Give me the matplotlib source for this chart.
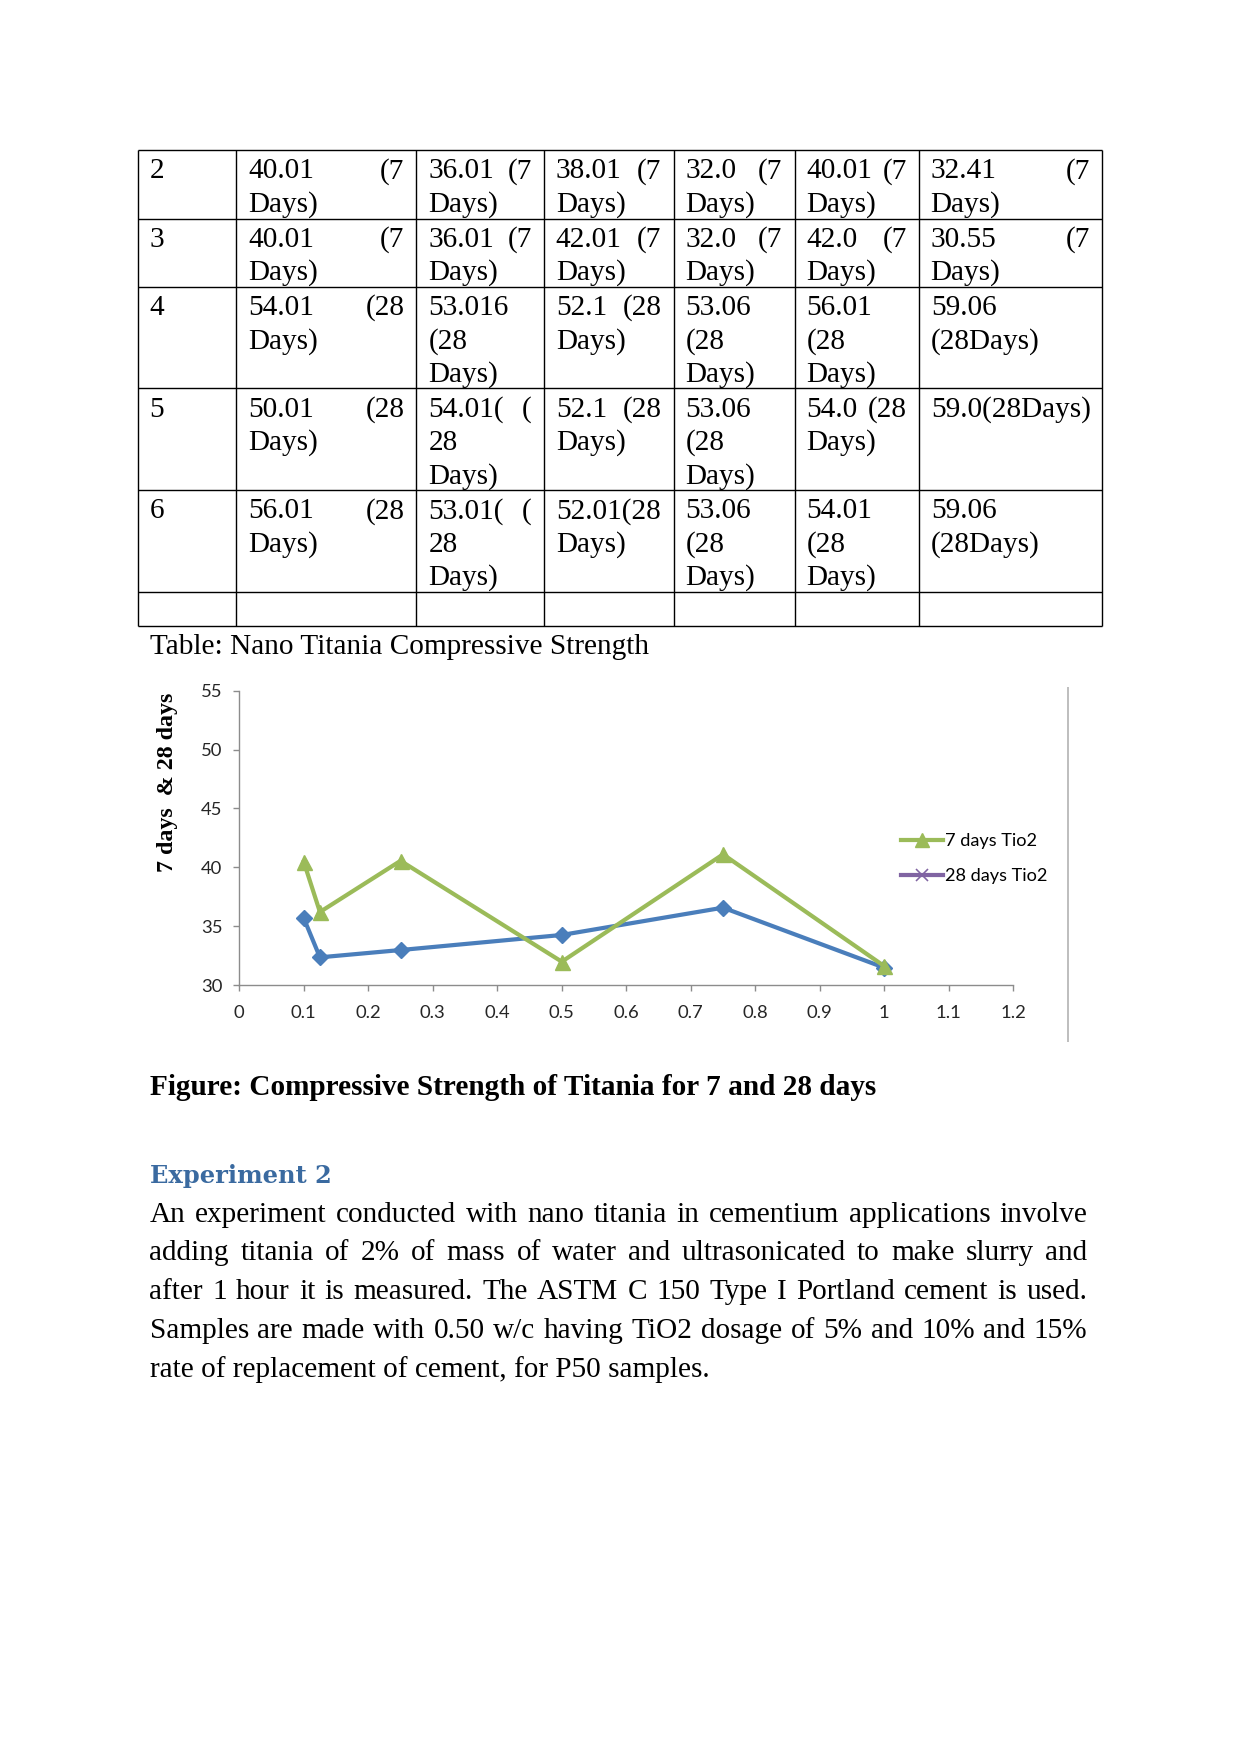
import matplotlib
matplotlib.use('Agg')
import matplotlib.pyplot as plt
from matplotlib.lines import Line2D

W, H = 1241, 1754
DPI = 100


def pt(px):
    # page pixels -> points at DPI
    return px * 72 / DPI


# chart data: TiO2 dosage vs strength
tio2_dosage = [0.1, 0.125, 0.25, 0.5, 0.75, 1.0]
strength_7d = [40.45, 36.2, 40.55, 31.98, 41.1, 31.6]
strength_28d = [35.67, 32.35, 32.97, 34.25, 36.57, 31.47]
series_labels = ['7 days Tio2', '28 days Tio2']
x_ticks = [0, 0.1, 0.2, 0.3, 0.4, 0.5, 0.6, 0.7, 0.8, 0.9, 1.0, 1.1, 1.2]
x_tick_labels = ['0', '0.1', '0.2', '0.3', '0.4', '0.5', '0.6', '0.7', '0.8', '0.9', '1', '1.1', '1.2']
y_ticks = [30, 35, 40, 45, 50, 55]
y_label = '7 days  & 28 days'

# table data (line breaks as in the document)
row_ids = ['2', '3', '4', '5', '6', '']
table_rows = [
    ['40.01 (7\nDays)', '36.01 (7\nDays)', '38.01 (7\nDays)', '32.0 (7\nDays)', '40.01 (7\nDays)', '32.41 (7\nDays)'],
    ['40.01 (7\nDays)', '36.01 (7\nDays)', '42.01 (7\nDays)', '32.0 (7\nDays)', '42.0 (7\nDays)', '30.55 (7\nDays)'],
    ['54.01 (28\nDays)', '53.016\n(28\nDays)', '52.1 (28\nDays)', '53.06\n(28\nDays)', '56.01\n(28\nDays)', '59.06\n(28Days)'],
    ['50.01 (28\nDays)', '54.01( (\n28\nDays)', '52.1 (28\nDays)', '53.06\n(28\nDays)', '54.0 (28\nDays)', '59.0(28Days)'],
    ['56.01 (28\nDays)', '53.01( (\n28\nDays)', '52.01(28\nDays)', '53.06\n(28\nDays)', '54.01\n(28\nDays)', '59.06\n(28Days)'],
    ['', '', '', '', '', ''],
]
table_caption = 'Table: Nano Titania Compressive Strength'
figure_caption = 'Figure: Compressive Strength of Titania for 7 and 28 days'
heading = 'Experiment 2'
paragraph_lines = [
    'An experiment conducted with nano titania in cementium applications involve',
    'adding titania of 2% of mass of water and ultrasonicated to make slurry and',
    'after 1 hour it is measured. The ASTM C 150 Type I Portland cement is used.',
    'Samples are made with 0.50 w/c having TiO2 dosage of 5% and 10% and 15%',
    'rate of replacement of cement, for P50 samples.',
]

# layout (page pixels)
col_edges = [137.6, 236.1, 416.3, 543.8, 673.6, 794.5, 918.7, 1102.2]
row_edges = [150.0, 218.5, 286.6, 388.3, 490.1, 591.9, 626.4]
cell_pad = 12
first_baseline = 28.3
line_step = 33.3
body_size = pt(29.3)

fig = plt.figure(figsize=(W / DPI, H / DPI), dpi=DPI)
fig.patch.set_facecolor('white')
page = fig.add_axes([0, 0, 1, 1])
page.set_xlim(0, W)
page.set_ylim(H, 0)
page.axis('off')
renderer = fig.canvas.get_renderer()

serif = dict(family='Liberation Serif', size=body_size, color='black', va='baseline', ha='left')


def justify(words, x0, x1, y, **kw):
    texts = [page.text(0, y, w, **kw) for w in words]
    widths = [t.get_window_extent(renderer).width for t in texts]
    gap = (x1 - x0 - sum(widths)) / max(len(words) - 1, 1)
    x = x0
    for t, w in zip(texts, widths):
        t.set_x(x)
        x += w + gap


# table grid
page.hlines(row_edges, col_edges[0], col_edges[-1], color='black', lw=pt(1.4))
page.vlines(col_edges, row_edges[0], row_edges[-1], color='black', lw=pt(1.4))

for r, top in enumerate(row_edges[:-1]):
    cells = [row_ids[r]] + table_rows[r]
    for c, cell in enumerate(cells):
        if not cell:
            continue
        x0 = col_edges[c] + cell_pad
        x1 = col_edges[c + 1] - cell_pad
        lines = cell.split('\n')
        for i, line in enumerate(lines):
            y = top + first_baseline + i * line_step
            if ' ' in line and i < len(lines) - 1:
                justify(line.split(), x0, x1, y, **serif)
            else:
                page.text(x0, y, line, **serif)

page.text(150, 654.3, table_caption, **serif)

# chart
ax = fig.add_axes([239.3 / W, (H - 985) / H, (1013.3 - 239.3) / W, (985 - 690.7) / H])
ax.set_facecolor('none')
ax.plot(tio2_dosage, strength_28d, color='#4A7EBB', lw=pt(4.2), marker='D',
        markersize=pt(11), markeredgecolor='#4A7EBB', zorder=3)
ax.plot(tio2_dosage, strength_7d, color='#9BBB59', lw=pt(4.2), marker='^',
        markersize=pt(15), markeredgecolor='#9BBB59', zorder=4)
ax.set_xlim(0, 1.2)
ax.set_ylim(30, 55)
ax.set_xticks(x_ticks)
ax.set_xticklabels(x_tick_labels)
ax.set_yticks(y_ticks)
for side in ['top', 'right']:
    ax.spines[side].set_visible(False)
for side in ['left', 'bottom']:
    ax.spines[side].set_color('#8C8C8C')
    ax.spines[side].set_linewidth(pt(1.4))
ax.tick_params(axis='both', direction='out', length=pt(6), width=pt(1.4), color='#8C8C8C',
               labelsize=pt(18.5), labelcolor='#262626')
ax.tick_params(axis='y', pad=pt(11))
ax.tick_params(axis='x', pad=pt(13.5))
for lab in ax.get_xticklabels() + ax.get_yticklabels():
    lab.set_family('Lato')

handles = [
    Line2D([], [], color='#9BBB59', lw=pt(4.2), marker='^', markersize=pt(14), markeredgecolor='#9BBB59'),
    Line2D([], [], color='#8064A2', lw=pt(4.2), marker='x', markersize=pt(12), markeredgewidth=pt(1.6)),
]
ax.legend(handles, series_labels, loc='center left', bbox_to_anchor=(901, 858.5),
          bbox_transform=page.transData, frameon=False, borderpad=0, borderaxespad=0,
          handlelength=2.3, handletextpad=0.12, labelspacing=1.05, numpoints=1,
          prop=dict(family='Lato', size=pt(18.2)))

page.text(168, 782, y_label, family='Liberation Serif', weight='bold', size=pt(24),
          rotation=90, ha='center', va='center', color='black')
page.vlines(1068, 687, 1042, color='#BFBFBF', lw=pt(2))

# captions and paragraph
page.text(149.5, 1095, figure_caption, family='Liberation Serif', weight='bold',
          size=body_size, va='baseline', ha='left')
page.text(149.5, 1183.3, heading, family='DejaVu Serif', weight='bold', size=pt(24.1),
          color='#3A6AA0', va='baseline', ha='left')
para_top = 1221.7
para_step = 38.75
for i, line in enumerate(paragraph_lines):
    y = para_top + i * para_step
    if i < len(paragraph_lines) - 1:
        justify(line.split(), 149.5, 1087.5, y, **serif)
    else:
        page.text(149.5, y, line, **serif)

fig.savefig('out.png', dpi=DPI, facecolor='white')
